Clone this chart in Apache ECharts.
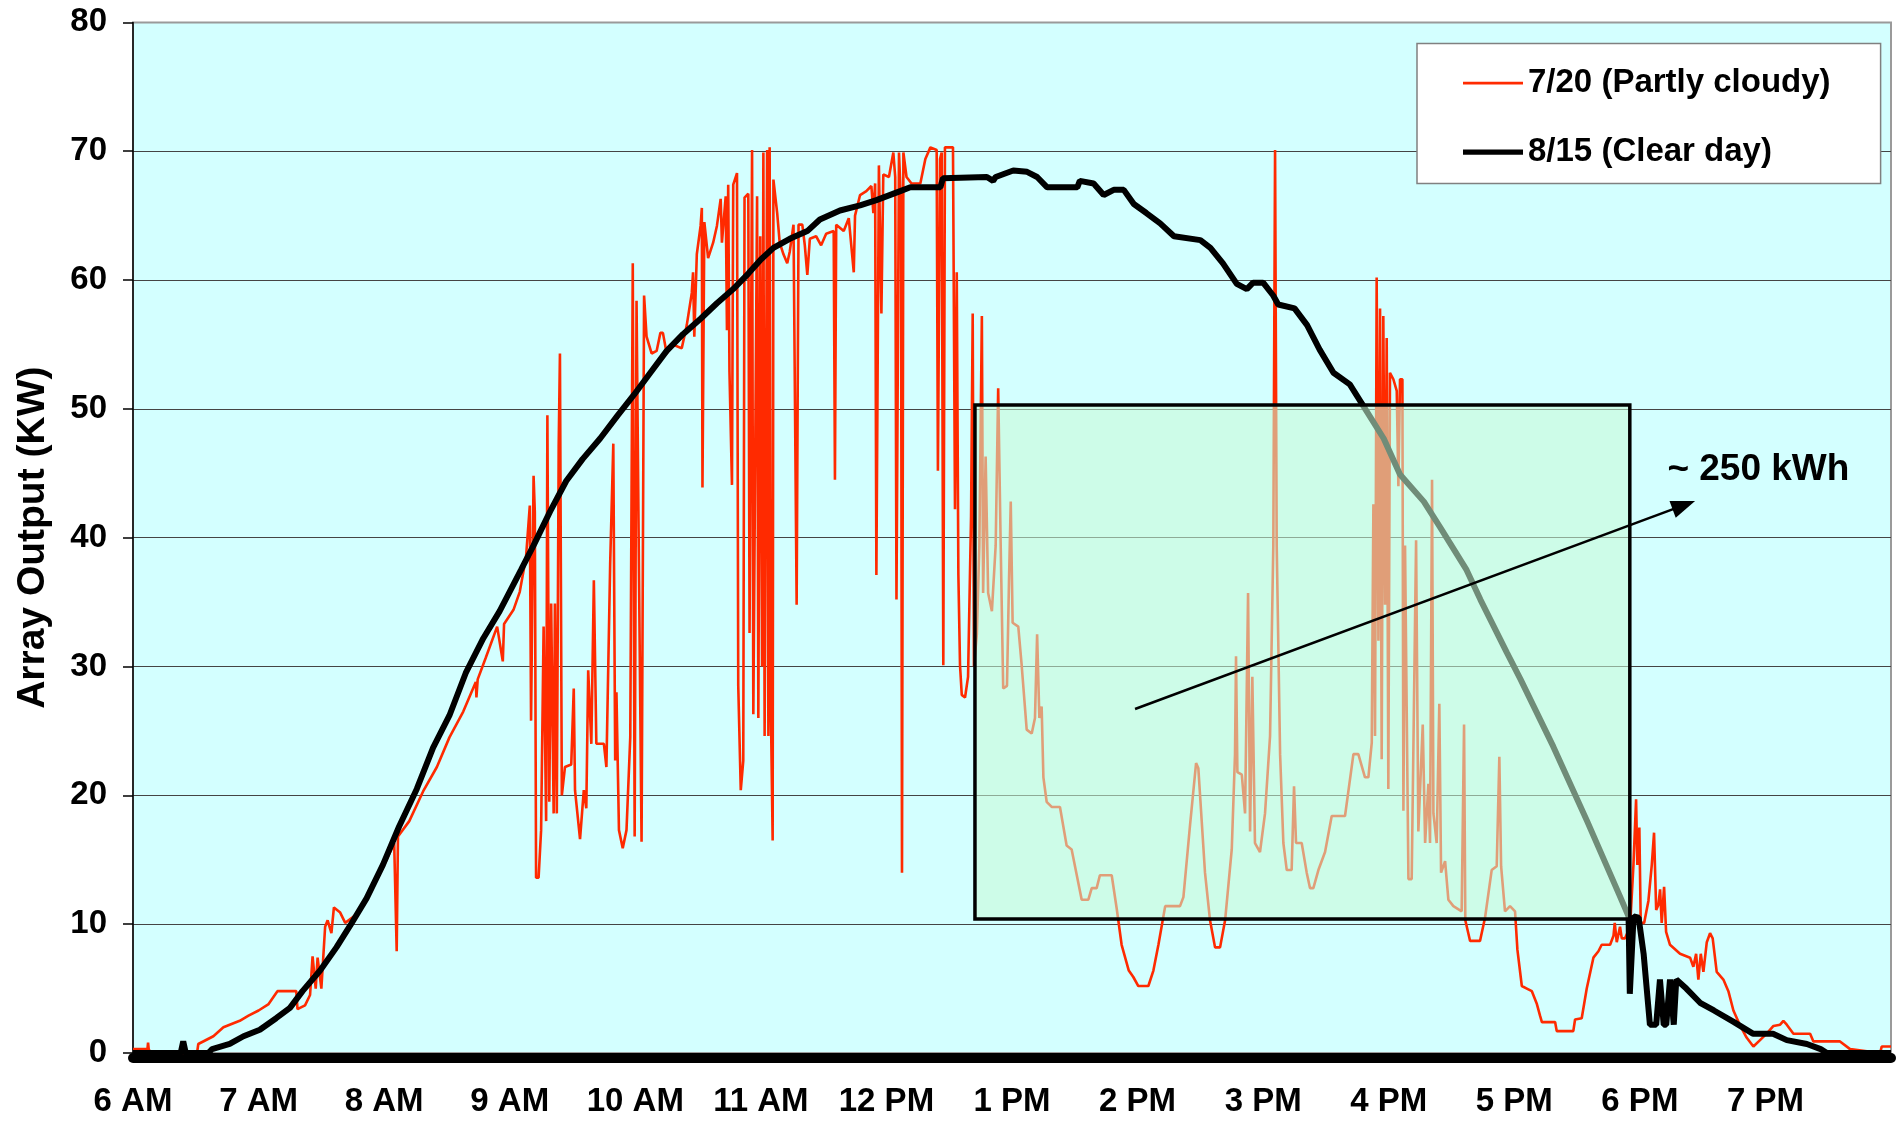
<!DOCTYPE html>
<html>
<head>
<meta charset="utf-8">
<script src="https://cdn.jsdelivr.net/npm/echarts@6/dist/echarts.min.js"></script>
<style>
html,body{margin:0;padding:0;background:#fff;}
#chart{width:1898px;height:1125px;}
</style>
</head>
<body>
<div id="chart"></div>
<script>
// ---- tick labels ----
const xTickLabels = ['6 AM','7 AM','8 AM','9 AM','10 AM','11 AM','12 PM','1 PM','2 PM','3 PM','4 PM','5 PM','6 PM','7 PM'];
const yTickLabels = ['0','10','20','30','40','50','60','70','80'];

// ---- series names ----
const seriesNames = ['7/20 (Partly cloudy)', '8/15 (Clear day)'];

// ---- 8/15 clear day: time (hours) and output (kW) ----
const clearTimes = [6.00,6.38,6.40,6.42,6.60,6.63,6.77,6.88,7.01,7.14,7.25,7.35,7.49,7.62,7.73,7.86,7.99,8.12,8.26,8.39,8.52,8.65,8.79,8.92,9.09,9.19,9.32,9.45,9.58,9.72,9.86,9.99,10.12,10.25,10.38,10.52,10.65,10.78,10.90,11.00,11.10,11.23,11.37,11.47,11.63,11.79,11.92,12.11,12.19,12.43,12.45,12.80,12.85,12.87,13.01,13.12,13.20,13.28,13.52,13.54,13.65,13.73,13.81,13.89,13.97,14.07,14.18,14.29,14.50,14.58,14.68,14.79,14.87,14.92,15.00,15.08,15.12,15.25,15.35,15.45,15.56,15.69,15.80,15.96,16.09,16.28,16.41,16.62,16.73,16.94,17.05,17.21,17.31,17.58,17.84,17.91,17.92,17.95,17.99,18.03,18.08,18.13,18.16,18.19,18.21,18.24,18.27,18.29,18.37,18.48,18.59,18.75,18.90,19.06,19.17,19.33,19.44,19.49,20.00];
const clearKW    = [0,0,0.9,0,0,0.3,0.7,1.3,1.8,2.7,3.5,4.8,6.4,8.2,9.9,12.0,14.6,17.6,20.5,23.7,26.2,29.5,32.2,34.3,37.5,39.4,42.0,44.4,46.1,47.7,49.5,51.1,52.8,54.5,55.8,57.0,58.2,59.3,60.5,61.6,62.5,63.2,63.8,64.7,65.4,65.8,66.2,66.9,67.2,67.2,67.9,68.0,67.7,68.0,68.5,68.4,68.0,67.2,67.2,67.7,67.5,66.6,67.0,67.0,65.9,65.2,64.4,63.4,63.1,62.5,61.3,59.7,59.3,59.8,59.8,58.8,58.1,57.8,56.5,54.6,52.8,51.9,50.2,47.7,44.9,42.8,40.8,37.5,35.2,31.1,29.0,25.8,23.8,18.0,12.2,10.6,4.6,10.6,10.5,7.7,2.2,2.2,5.7,2.2,2.2,5.7,2.2,5.7,5.0,3.9,3.3,2.4,1.5,1.5,1.0,0.7,0.3,0,0];

// ---- 7/20 partly cloudy: time (hours) and output (kW) ----
const cloudyTimes = [6.00,6.115,6.12,6.125,6.14,6.51,6.52,6.64,6.72,6.85,6.92,7.00,7.08,7.15,7.30,7.31,7.37,7.41,7.43,7.455,7.47,7.50,7.53,7.55,7.58,7.60,7.65,7.69,7.80,7.91,8.02,8.08,8.10,8.11,8.20,8.31,8.42,8.52,8.63,8.73,8.735,8.745,8.81,8.90,8.945,8.955,9.03,9.08,9.13,9.16,9.17,9.19,9.20,9.21,9.23,9.25,9.27,9.29,9.30,9.315,9.33,9.35,9.36,9.375,9.39,9.40,9.415,9.44,9.49,9.51,9.52,9.56,9.59,9.61,9.625,9.65,9.67,9.69,9.75,9.77,9.80,9.825,9.84,9.85,9.87,9.90,9.93,9.96,9.98,9.995,10.01,10.03,10.05,10.07,10.09,10.13,10.17,10.20,10.22,10.25,10.30,10.37,10.41,10.45,10.46,10.47,10.49,10.52,10.53,10.535,10.55,10.58,10.62,10.65,10.68,10.69,10.72,10.73,10.74,10.75,10.77,10.78,10.81,10.82,10.84,10.86,10.87,10.90,10.91,10.93,10.94,10.97,10.98,10.995,11.01,11.02,11.03,11.05,11.06,11.07,11.08,11.094,11.10,11.13,11.15,11.18,11.21,11.23,11.26,11.285,11.30,11.33,11.35,11.37,11.39,11.44,11.48,11.52,11.58,11.59,11.60,11.66,11.70,11.74,11.75,11.79,11.84,11.88,11.896,11.91,11.92,11.94,11.96,11.975,12.02,12.055,12.07,12.08,12.10,12.116,12.124,12.135,12.16,12.20,12.27,12.31,12.35,12.40,12.41,12.427,12.44,12.453,12.466,12.53,12.546,12.56,12.573,12.586,12.60,12.626,12.65,12.674,12.687,12.697,12.72,12.74,12.76,12.77,12.79,12.81,12.84,12.87,12.89,12.91,12.93,12.96,12.976,12.99,13.005,13.05,13.077,13.117,13.157,13.183,13.20,13.218,13.236,13.25,13.276,13.316,13.382,13.435,13.475,13.555,13.608,13.635,13.674,13.70,13.794,13.834,13.873,13.93,13.966,14.006,14.086,14.126,14.166,14.22,14.338,14.365,14.418,14.466,14.484,14.537,14.577,14.617,14.657,14.697,14.75,14.776,14.784,14.795,14.83,14.856,14.88,14.896,14.914,14.935,14.975,15.015,15.055,15.081,15.095,15.108,15.135,15.161,15.188,15.227,15.246,15.262,15.307,15.347,15.373,15.40,15.44,15.493,15.546,15.652,15.719,15.758,15.811,15.838,15.865,15.878,15.891,15.904,15.918,15.931,15.944,15.957,15.971,15.984,15.997,16.01,16.037,16.064,16.077,16.09,16.109,16.117,16.13,16.143,16.157,16.183,16.218,16.236,16.271,16.29,16.316,16.329,16.345,16.356,16.382,16.403,16.417,16.449,16.475,16.515,16.581,16.60,16.61,16.648,16.727,16.767,16.82,16.86,16.881,16.895,16.926,16.966,17.006,17.025,17.06,17.10,17.14,17.18,17.205,17.22,17.325,17.338,17.47,17.484,17.537,17.577,17.63,17.67,17.696,17.763,17.79,17.80,17.816,17.842,17.856,17.882,17.922,17.949,17.97,17.98,17.996,18.007,18.034,18.068,18.095,18.113,18.13,18.148,18.161,18.174,18.193,18.209,18.24,18.32,18.40,18.426,18.448,18.466,18.485,18.506,18.533,18.559,18.58,18.612,18.665,18.705,18.745,18.80,18.85,18.904,18.957,19.01,19.064,19.117,19.143,19.17,19.223,19.356,19.382,19.594,19.674,19.913,19.926,20.00];
const cloudyKW    = [0.3,0.3,0.8,0.3,0,0,0.7,1.3,2.0,2.5,2.9,3.3,3.8,4.8,4.8,3.4,3.7,4.5,7.5,5.0,7.4,5.0,9.8,10.3,9.3,11.3,10.9,10.1,10.9,12.9,15.0,16.3,7.9,16.8,18.0,20.3,22.2,24.5,26.5,28.8,27.6,29.0,30.7,33.1,30.4,33.3,34.4,35.8,38.5,42.5,25.8,44.8,42.0,13.6,13.6,17.3,33.1,18.0,49.5,19.5,34.9,18.6,34.9,18.6,47.1,54.3,20.0,22.2,22.4,28.3,20.4,16.6,20.4,19.0,29.7,24.0,36.7,24.0,24.0,22.2,38.0,47.3,22.7,28.0,17.3,15.9,17.3,24.5,61.3,16.8,58.4,36.7,16.4,58.8,55.6,54.3,54.5,55.9,55.9,54.3,55.0,54.7,56.5,59.0,60.6,55.6,62.0,64.2,65.6,43.9,64.5,61.7,62.9,64.2,66.3,62.9,66.5,56.1,67.4,52.9,44.1,67.4,68.3,28.5,20.4,22.7,66.4,66.7,32.6,70.1,26.3,66.5,26.0,63.4,30.0,69.9,24.6,70.1,24.6,70.3,26.5,16.5,67.8,65.2,62.9,62.0,61.3,62.2,64.3,34.8,64.3,64.3,62.7,60.4,63.2,63.4,62.7,63.6,63.8,44.5,64.3,63.8,64.8,60.6,65.0,66.6,66.9,67.3,65.2,67.5,37.1,68.9,57.4,68.2,68.0,69.9,68.0,35.2,69.9,66.0,14.0,69.9,68.0,67.5,67.5,69.4,70.3,70.1,45.2,69.4,69.9,30.1,70.3,70.3,42.2,60.6,37.1,30.1,27.8,27.6,29.2,41.7,57.4,30.0,32.5,39.4,57.2,35.7,46.3,35.7,34.3,39.4,51.6,39.4,28.3,28.5,36.6,42.8,33.4,33.1,30.1,25.1,24.8,26.0,32.5,26.0,26.9,21.4,19.5,19.1,19.1,16.1,15.8,11.9,11.9,12.8,12.8,13.8,13.8,11.2,8.4,6.4,5.9,5.2,5.2,6.4,8.4,11.4,11.4,12.1,17.7,22.5,22.1,14.0,10.3,8.2,8.2,10.3,15.8,23.2,30.8,21.8,21.6,18.6,35.7,17.2,29.2,16.3,15.6,18.6,24.6,39.4,70.1,39.4,23.2,16.3,14.2,14.2,20.7,16.3,16.3,14.0,12.8,12.8,14.2,15.6,18.4,18.4,23.2,23.2,21.4,21.4,24.1,42.6,24.6,60.2,32.0,57.8,22.8,57.2,34.8,55.5,20.5,52.8,52.3,51.4,44.0,52.3,52.3,18.8,39.4,26.9,13.5,13.5,39.8,17.2,25.5,16.3,20.9,16.3,44.5,18.6,16.3,27.1,14.0,14.9,11.9,11.4,11.0,25.5,10.3,8.7,8.7,10.5,14.2,14.5,23.0,14.5,11.0,11.4,11.0,8.0,5.2,5.0,4.8,3.8,2.9,2.4,2.4,1.7,1.7,2.6,2.7,5.0,7.4,7.9,8.4,8.4,9.1,10.1,8.6,9.8,8.9,8.9,9.8,14.6,19.7,14.6,17.5,10.1,10.1,11.8,14.6,17.1,11.1,11.5,12.7,10.1,12.9,9.4,8.4,7.7,7.4,6.7,7.7,5.7,7.7,6.3,8.6,9.3,8.9,6.3,5.7,4.8,3.3,2.1,1.2,0.5,1.0,1.5,2.1,2.2,2.5,2.2,1.5,1.5,0.9,0.9,0.3,0,0.5,0.5];

// ---- annotation anchors (data coordinates: hours, kW) ----
const boxCorners = [[12.705, 50.3], [17.92, 10.4]];
const arrowFrom = [13.98, 26.7];
const arrowTo = [18.44, 42.85];
const notePos = [18.944, 45.25];
const noteText = '~ 250 kWh';

const FONT = '"Liberation Sans", Arial, Helvetica, sans-serif';

const zip = (t, v) => t.map((x, i) => [x, v[i]]);

const chart = echarts.init(document.getElementById('chart'), null, {renderer: 'canvas'});

const option = {
  animation: false,
  backgroundColor: '#ffffff',
  grid: {
    left: 133, right: 7, top: 22.4, bottom: 72,
    show: true,
    backgroundColor: '#d3ffff',
    borderColor: '#9a9a9a',
    borderWidth: 2
  },
  legend: {
    data: [
      {name: seriesNames[0], icon: 'path://M0,0 M60,14 M0,5.65 L60,5.65 L60,8.35 L0,8.35 Z'},
      {name: seriesNames[1], icon: 'path://M0,0 M60,14 M0,4.3 L60,4.3 L60,9.7 L0,9.7 Z'}
    ],
    orient: 'vertical',
    left: 1417, top: 43.6,
    padding: [23, 50, 15, 46],
    itemGap: 36,
    itemWidth: 60,
    itemHeight: 14,
    backgroundColor: '#ffffff',
    borderColor: '#808080',
    borderWidth: 1.5,
    borderRadius: 0,
    selectedMode: false,
    itemStyle: {borderWidth: 0},
    textStyle: {fontSize: 33, fontWeight: 'bold', color: '#000', fontFamily: FONT}
  },
  xAxis: {
    type: 'value',
    min: 6, max: 20, interval: 1,
    offset: 5,
    axisLine: {show: true, onZero: false, lineStyle: {color: '#000', width: 10}},
    axisTick: {show: false},
    splitLine: {show: false},
    axisLabel: {
      fontSize: 33, fontWeight: 'bold', color: '#000', fontFamily: FONT, margin: 27,
      formatter: v => xTickLabels[Math.round(v - 6)] || ''
    }
  },
  yAxis: {
    type: 'value',
    min: 0, max: 80, interval: 10,
    name: 'Array Output (KW)',
    nameLocation: 'middle',
    nameGap: 80,
    nameTextStyle: {fontSize: 39, fontWeight: 'bold', color: '#000', fontFamily: FONT},
    axisLine: {show: true, lineStyle: {color: '#000', width: 1.5}},
    axisTick: {show: true, inside: false, length: 10, lineStyle: {color: '#000', width: 1.5}},
    axisLabel: {
      fontSize: 33, fontWeight: 'bold', color: '#000', fontFamily: FONT, margin: 26,
      formatter: v => yTickLabels[Math.round(v / 10)]
    },
    splitLine: {show: true, lineStyle: {color: ['#444','#444','#444','#444','#444','#444','#444','#444','#9a9a9a'], width: 1.2}}
  },
  series: [
    {
      name: seriesNames[0], type: 'line', data: zip(cloudyTimes, cloudyKW),
      symbol: 'none', showSymbol: false, z: 3,
      lineStyle: {color: '#ff2a00', width: 2.6},
      itemStyle: {color: '#ff2a00', borderWidth: 0}
    },
    {
      name: seriesNames[1], type: 'line', data: zip(clearTimes, clearKW),
      symbol: 'none', showSymbol: false, z: 4,
      lineStyle: {color: '#000000', width: 6},
      itemStyle: {color: '#000000', borderWidth: 0}
    },
    {
      name: 'annotation', type: 'custom', z: 10, silent: true,
      data: [boxCorners[0], arrowFrom, notePos],
      renderItem: function (params, api) {
        const i = params.dataIndex;
        if (i === 0) {
          const p1 = api.coord(boxCorners[0]);
          const p2 = api.coord(boxCorners[1]);
          return {
            type: 'rect',
            shape: {x: p1[0], y: p1[1], width: p2[0] - p1[0], height: p2[1] - p1[1]},
            style: {fill: 'rgba(200,250,214,0.56)', stroke: '#000', lineWidth: 3.5}
          };
        }
        if (i === 1) {
          const a = api.coord(arrowFrom);
          const b = api.coord(arrowTo);
          const dx = b[0] - a[0], dy = b[1] - a[1];
          const len = Math.sqrt(dx * dx + dy * dy);
          const ux = dx / len, uy = dy / len;
          const nx = -uy, ny = ux;
          const hl = 24, hw = 9;
          const bx = b[0] - ux * hl, by = b[1] - uy * hl;
          return {
            type: 'group',
            children: [
              {type: 'line', shape: {x1: a[0], y1: a[1], x2: bx + ux * 2, y2: by + uy * 2}, style: {stroke: '#000', lineWidth: 2.5}},
              {type: 'polygon', shape: {points: [[b[0], b[1]], [bx + nx * hw, by + ny * hw], [bx - nx * hw, by - ny * hw]]}, style: {fill: '#000'}}
            ]
          };
        }
        const p = api.coord(notePos);
        return {
          type: 'text', x: p[0], y: p[1],
          style: {text: noteText, fontSize: 37, fontWeight: 'bold', fontFamily: FONT, fill: '#000', align: 'center', verticalAlign: 'middle'}
        };
      }
    }
  ]
};

chart.setOption(option);
</script>
</body>
</html>
